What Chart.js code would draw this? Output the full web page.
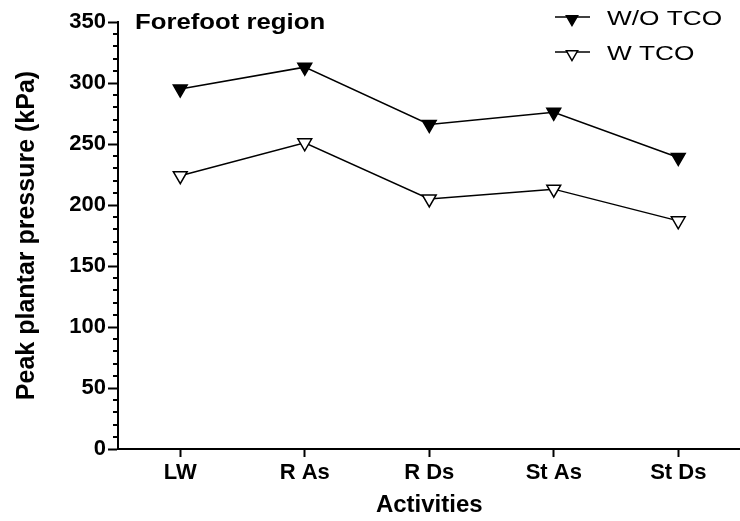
<!DOCTYPE html>
<html>
<head>
<meta charset="utf-8">
<title>Forefoot region</title>
<script src="https://cdn.jsdelivr.net/npm/chart.js"></script>
<style>
    html, body { margin: 0; padding: 0; background: #ffffff; overflow: hidden; }
    canvas { display: block; }
</style>
</head>
<body>
<canvas id="pressureChart" width="750" height="521"></canvas>
<script>
const activities = ["LW", "R As", "R Ds", "St As", "St Ds"];
const withoutTco = [295, 313, 266, 276, 239];
const withTco = [224, 251, 205, 213, 187];
const seriesNames = ["W/O TCO", "W TCO"];

const yMin = 0;
const yMax = 350;
const majorStep = 50;
const minorStep = 10;

const regionTitle = "Forefoot region";
const xTitle = "Activities";
const yTitle = "Peak plantar pressure (kPa)";

const FONT = "'Liberation Sans', Arial, Helvetica, sans-serif";

// draws scaled text so wide lettering keeps its height
function wideText(ctx, text, x, y, sx)
{
    ctx.save();
    ctx.translate(x, y);
    ctx.scale(sx, 1);
    ctx.fillText(text, 0, 0);
    ctx.restore();
}

// short unlabelled ticks between the 50s on the y axis
const minorTicks = {
    id: "minorTicks",
    afterDraw(chart)
    {
        const scale = chart.scales.y;
        const ctx = chart.ctx;
        ctx.save();
        ctx.strokeStyle = "#000000";
        ctx.lineWidth = 2;
        for (let v = yMin; v <= yMax; v += minorStep)
        {
            if (v % majorStep == 0) continue;
            const py = Math.round(scale.getPixelForValue(v));
            ctx.beginPath();
            ctx.moveTo(chart.chartArea.left - 5, py);
            ctx.lineTo(chart.chartArea.left, py);
            ctx.stroke();
        }
        ctx.restore();
    }
};

// region label in the top left corner and the legend in the top right
const overlayText = {
    id: "overlayText",
    afterDraw(chart)
    {
        const ctx = chart.ctx;
        const area = chart.chartArea;
        ctx.save();
        ctx.fillStyle = "#000000";
        ctx.textBaseline = "alphabetic";
        ctx.textAlign = "left";
        ctx.font = "bold 22px " + FONT;
        wideText(ctx, regionTitle, area.left + 17, 29, 1.17);

        ctx.font = "21px " + FONT;
        chart.data.datasets.forEach((ds, i) =>
        {
            const rowY = 17 + i * 35;
            ctx.strokeStyle = ds.borderColor;
            ctx.lineWidth = ds.borderWidth;
            ctx.beginPath();
            ctx.moveTo(555, rowY);
            ctx.lineTo(590, rowY);
            ctx.stroke();

            ctx.fillStyle = ds.pointBackgroundColor;
            ctx.strokeStyle = ds.pointBorderColor;
            ctx.lineWidth = ds.pointBorderWidth;
            Chart.helpers.drawPoint(ctx, {
                pointStyle: ds.pointStyle,
                rotation: ds.pointRotation,
                radius: 6.5,
                borderWidth: ds.pointBorderWidth
            }, 572, rowY + 2);

            ctx.fillStyle = "#000000";
            wideText(ctx, ds.label, 607, rowY + 7.5, 1.25);
        });
        ctx.restore();
    }
};

new Chart(document.getElementById("pressureChart"), {
    type: "line",
    data: {
        labels: activities,
        datasets: [
            {
                label: seriesNames[0],
                data: withoutTco,
                borderColor: "#000000",
                borderWidth: 1.5,
                pointStyle: "triangle",
                pointRotation: 180,
                pointRadius: 8,
                pointBackgroundColor: "#000000",
                pointBorderColor: "#000000",
                pointBorderWidth: 1.5,
                tension: 0
            },
            {
                label: seriesNames[1],
                data: withTco,
                borderColor: "#000000",
                borderWidth: 1.5,
                pointStyle: "triangle",
                pointRotation: 180,
                pointRadius: 8,
                pointBackgroundColor: "#ffffff",
                pointBorderColor: "#000000",
                pointBorderWidth: 1.5,
                tension: 0
            }
        ]
    },
    options: {
        responsive: false,
        animation: false,
        layout: {
            padding: { left: 12, top: 22, right: 4, bottom: 0 }
        },
        plugins: {
            legend: { display: false },
            tooltip: { enabled: false }
        },
        scales: {
            x: {
                offset: true,
                grid: {
                    offset: false,
                    drawOnChartArea: false,
                    tickLength: 8,
                    tickWidth: 2,
                    tickColor: "#000000"
                },
                border: { color: "#000000", width: 2 },
                ticks: {
                    color: "#000000",
                    padding: 3,
                    font: { family: FONT, size: 22, weight: "bold" }
                },
                title: {
                    display: true,
                    text: xTitle,
                    color: "#000000",
                    padding: { top: 2, bottom: 1 },
                    font: { family: FONT, size: 24, weight: "bold" }
                },
                afterFit(scale)
                {
                    scale.height = 72;
                }
            },
            y: {
                min: yMin,
                max: yMax,
                grid: {
                    drawOnChartArea: false,
                    tickLength: 10,
                    tickWidth: 2,
                    tickColor: "#000000"
                },
                border: { color: "#000000", width: 2 },
                ticks: {
                    stepSize: majorStep,
                    color: "#000000",
                    padding: 2,
                    font: { family: FONT, size: 22, weight: "bold" }
                },
                title: {
                    display: true,
                    text: yTitle,
                    color: "#000000",
                    padding: { top: 0, bottom: 0 },
                    font: { family: FONT, size: 25, weight: "bold" }
                },
                afterFit(scale)
                {
                    scale.width = 106;
                }
            }
        }
    },
    plugins: [minorTicks, overlayText]
});
</script>
</body>
</html>
